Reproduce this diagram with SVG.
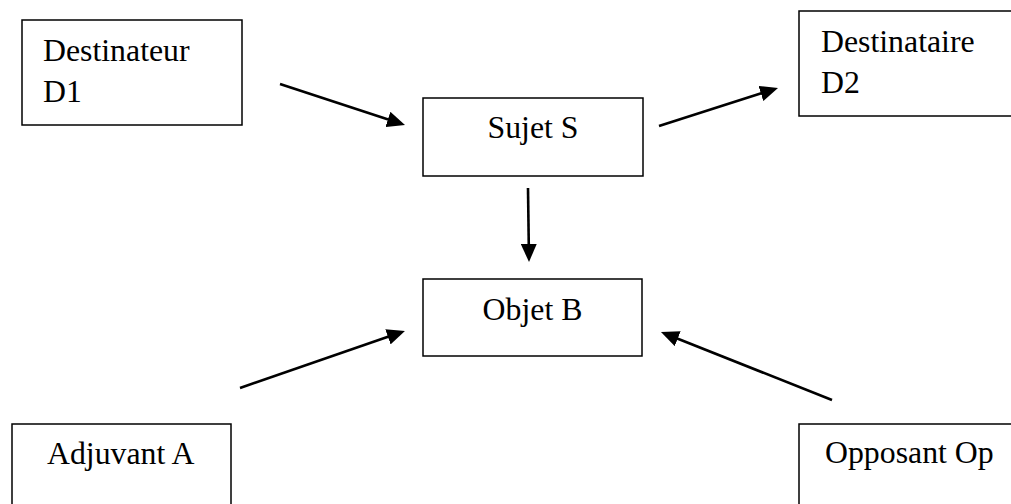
<svg xmlns="http://www.w3.org/2000/svg" width="1011" height="504" viewBox="0 0 1011 504">
  <style>
    .box { fill: #ffffff; stroke: #000000; stroke-width: 1.5; }
    .lbl { font-family: "Liberation Serif", "Times New Roman", serif; font-size: 31.8px; fill: #000000; }
    .mid { text-anchor: middle; }
    .arrow { stroke: #000000; stroke-width: 2.6; fill: none; marker-end: url(#head); }
  </style>
  <defs>
    <marker id="head" markerUnits="userSpaceOnUse" markerWidth="18" markerHeight="16" viewBox="0 0 18 16" refX="10" refY="8" orient="auto">
      <path d="M0,0 L18,8 L0,16 Z" fill="#000000"/>
    </marker>
  </defs>
  <rect width="1011" height="504" fill="#ffffff"/>

  <!-- actant boxes -->
  <g id="destinateur">
    <rect class="box" x="22" y="20" width="220" height="105"/>
    <text class="lbl" x="43" y="61">Destinateur</text>
    <text class="lbl" x="43" y="101.5">D1</text>
  </g>
  <g id="destinataire">
    <rect class="box" x="799" y="11" width="220" height="105"/>
    <text class="lbl" x="821" y="52">Destinataire</text>
    <text class="lbl" x="821" y="93">D2</text>
  </g>
  <g id="sujet">
    <rect class="box" x="423" y="98" width="220" height="78"/>
    <text class="lbl mid" x="533" y="138">Sujet S</text>
  </g>
  <g id="objet">
    <rect class="box" x="423" y="279" width="219" height="77"/>
    <text class="lbl mid" x="532.5" y="320">Objet B</text>
  </g>
  <g id="adjuvant">
    <rect class="box" x="12" y="424" width="219" height="100"/>
    <text class="lbl" x="47" y="464">Adjuvant A</text>
  </g>
  <g id="opposant">
    <rect class="box" x="799" y="424" width="230" height="100"/>
    <text class="lbl" x="825" y="463">Opposant Op</text>
  </g>

  <!-- connectors -->
  <g id="connectors">
    <line class="arrow" x1="280" y1="84" x2="397.4" y2="122.5"/>
    <line class="arrow" x1="659" y1="126" x2="770.4" y2="90.4"/>
    <line class="arrow" x1="528" y1="188" x2="528.9" y2="254"/>
    <line class="arrow" x1="240" y1="388" x2="397.4" y2="333.6"/>
    <line class="arrow" x1="832" y1="400" x2="668.4" y2="335"/>
  </g>
</svg>
